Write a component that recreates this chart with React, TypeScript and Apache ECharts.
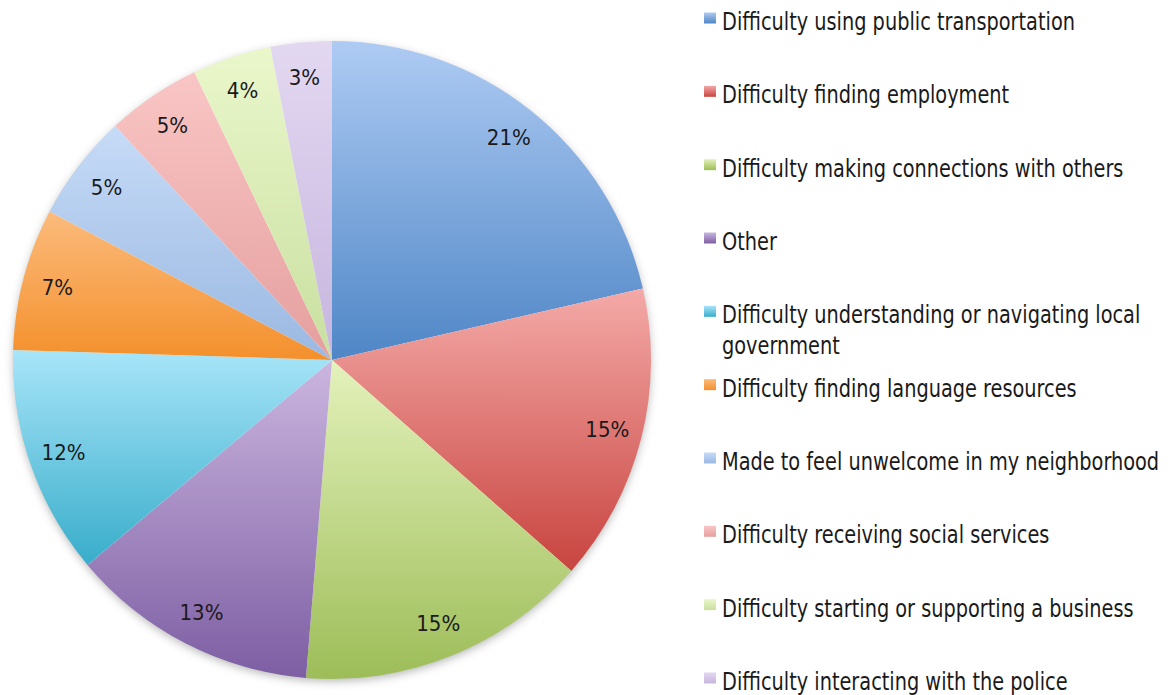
import React, { useEffect, useRef } from 'react';
import * as echarts from 'echarts';

const CATEGORIES = [
  'Difficulty using public transportation',
  'Difficulty finding employment',
  'Difficulty making connections with others',
  'Other',
  'Difficulty understanding or navigating local government',
  'Difficulty finding language resources',
  'Made to feel unwelcome in my neighborhood',
  'Difficulty receiving social services',
  'Difficulty starting or supporting a business',
  'Difficulty interacting with the police',
];
const VALUES = [21.4, 15.1, 14.8, 12.6, 11.6, 7.2, 5.4, 4.8, 4.0, 3.1];
const COLORS_TOP = ['#aecbf3', '#f4aaa8', '#e4f2bc', '#cbb6df', '#a8e5f9', '#fbbb7c', '#c6dbf7', '#f9c6c5', '#eaf7cb', '#e3d8f1'];
const COLORS_BOTTOM = ['#4f86c6', '#c8443f', '#9dbd58', '#7d5ea3', '#38adca', '#f4902c', '#9ab8e1', '#e49f9e', '#c9dfa0', '#c6b5de'];

const FONT = "'DejaVu Sans Condensed', 'DejaVu Sans', sans-serif";
const CX = 332;
const CY = 360;
const R = 319;
const LEGEND_X = 704;
const LEGEND_TOP = 6.2;
const LEGEND_STEP = 73.33;
const TEXT_SCALE = 0.895;

const grad = (i: number) => ({
  type: 'linear',
  x: 0,
  y: 0,
  x2: 0,
  y2: 1,
  colorStops: [
    { offset: 0, color: COLORS_TOP[i] },
    { offset: 1, color: COLORS_BOTTOM[i] },
  ],
});

export default function App() {
  const ref = useRef<HTMLDivElement>(null);

  useEffect(() => {
    if (!ref.current) return;
    const chart = echarts.init(ref.current, undefined, { renderer: 'svg' });

    const legendGraphics: any[] = [];
    CATEGORIES.forEach((name, i) => {
      const y0 = LEGEND_TOP + i * LEGEND_STEP;
      legendGraphics.push({
        type: 'rect',
        shape: { x: LEGEND_X, y: y0 + 6.3, width: 12, height: 11 },
        style: { fill: grad(i) },
      });
      legendGraphics.push({
        type: 'text',
        x: LEGEND_X + 18,
        y: y0,
        scaleX: TEXT_SCALE,
        scaleY: 1,
        style: {
          text: name,
          fontSize: 24,
          fontFamily: FONT,
          fill: '#1a1a1a',
          width: 490,
          overflow: 'break',
          lineHeight: 31,
          verticalAlign: 'top',
          align: 'left',
        },
      });
    });

    const data = CATEGORIES.map((name, i) => ({
      name,
      value: VALUES[i],
      itemStyle: { color: grad(i) },
    }));

    chart.setOption({
      animation: false,
      backgroundColor: '#ffffff',
      graphic: [
        {
          type: 'circle',
          z: -1,
          shape: { cx: CX, cy: CY, r: R - 1 },
          style: { fill: '#ffffff', shadowBlur: 10, shadowColor: 'rgba(0,0,0,0.3)', shadowOffsetY: 3 },
        },
        ...legendGraphics,
      ],
      series: [
        {
          type: 'pie',
          center: [CX, CY],
          radius: [0, R],
          startAngle: 90,
          clockwise: true,
          silent: true,
          label: { show: false },
          labelLine: { show: false },
          itemStyle: { borderWidth: 0 },
          emphasis: { disabled: true },
          data,
        },
        {
          type: 'pie',
          center: [CX, CY],
          radius: [243, R],
          startAngle: 90,
          clockwise: true,
          silent: true,
          z: 5,
          itemStyle: { color: 'rgba(0,0,0,0)', borderWidth: 0 },
          emphasis: { disabled: true },
          labelLine: { show: false },
          label: {
            show: true,
            position: 'inside',
            fontFamily: FONT,
            fontSize: 22,
            color: '#1a1a1a',
            formatter: (p: any) => `${Math.round(p.percent)}%`,
          },
          data: CATEGORIES.map((name, i) => ({ name, value: VALUES[i] })),
        },
      ],
    });

    return () => chart.dispose();
  }, []);

  return (
    <div
      ref={ref}
      style={{ position: 'absolute', left: 0, top: 0, width: 1168, height: 695 }}
    />
  );
}
